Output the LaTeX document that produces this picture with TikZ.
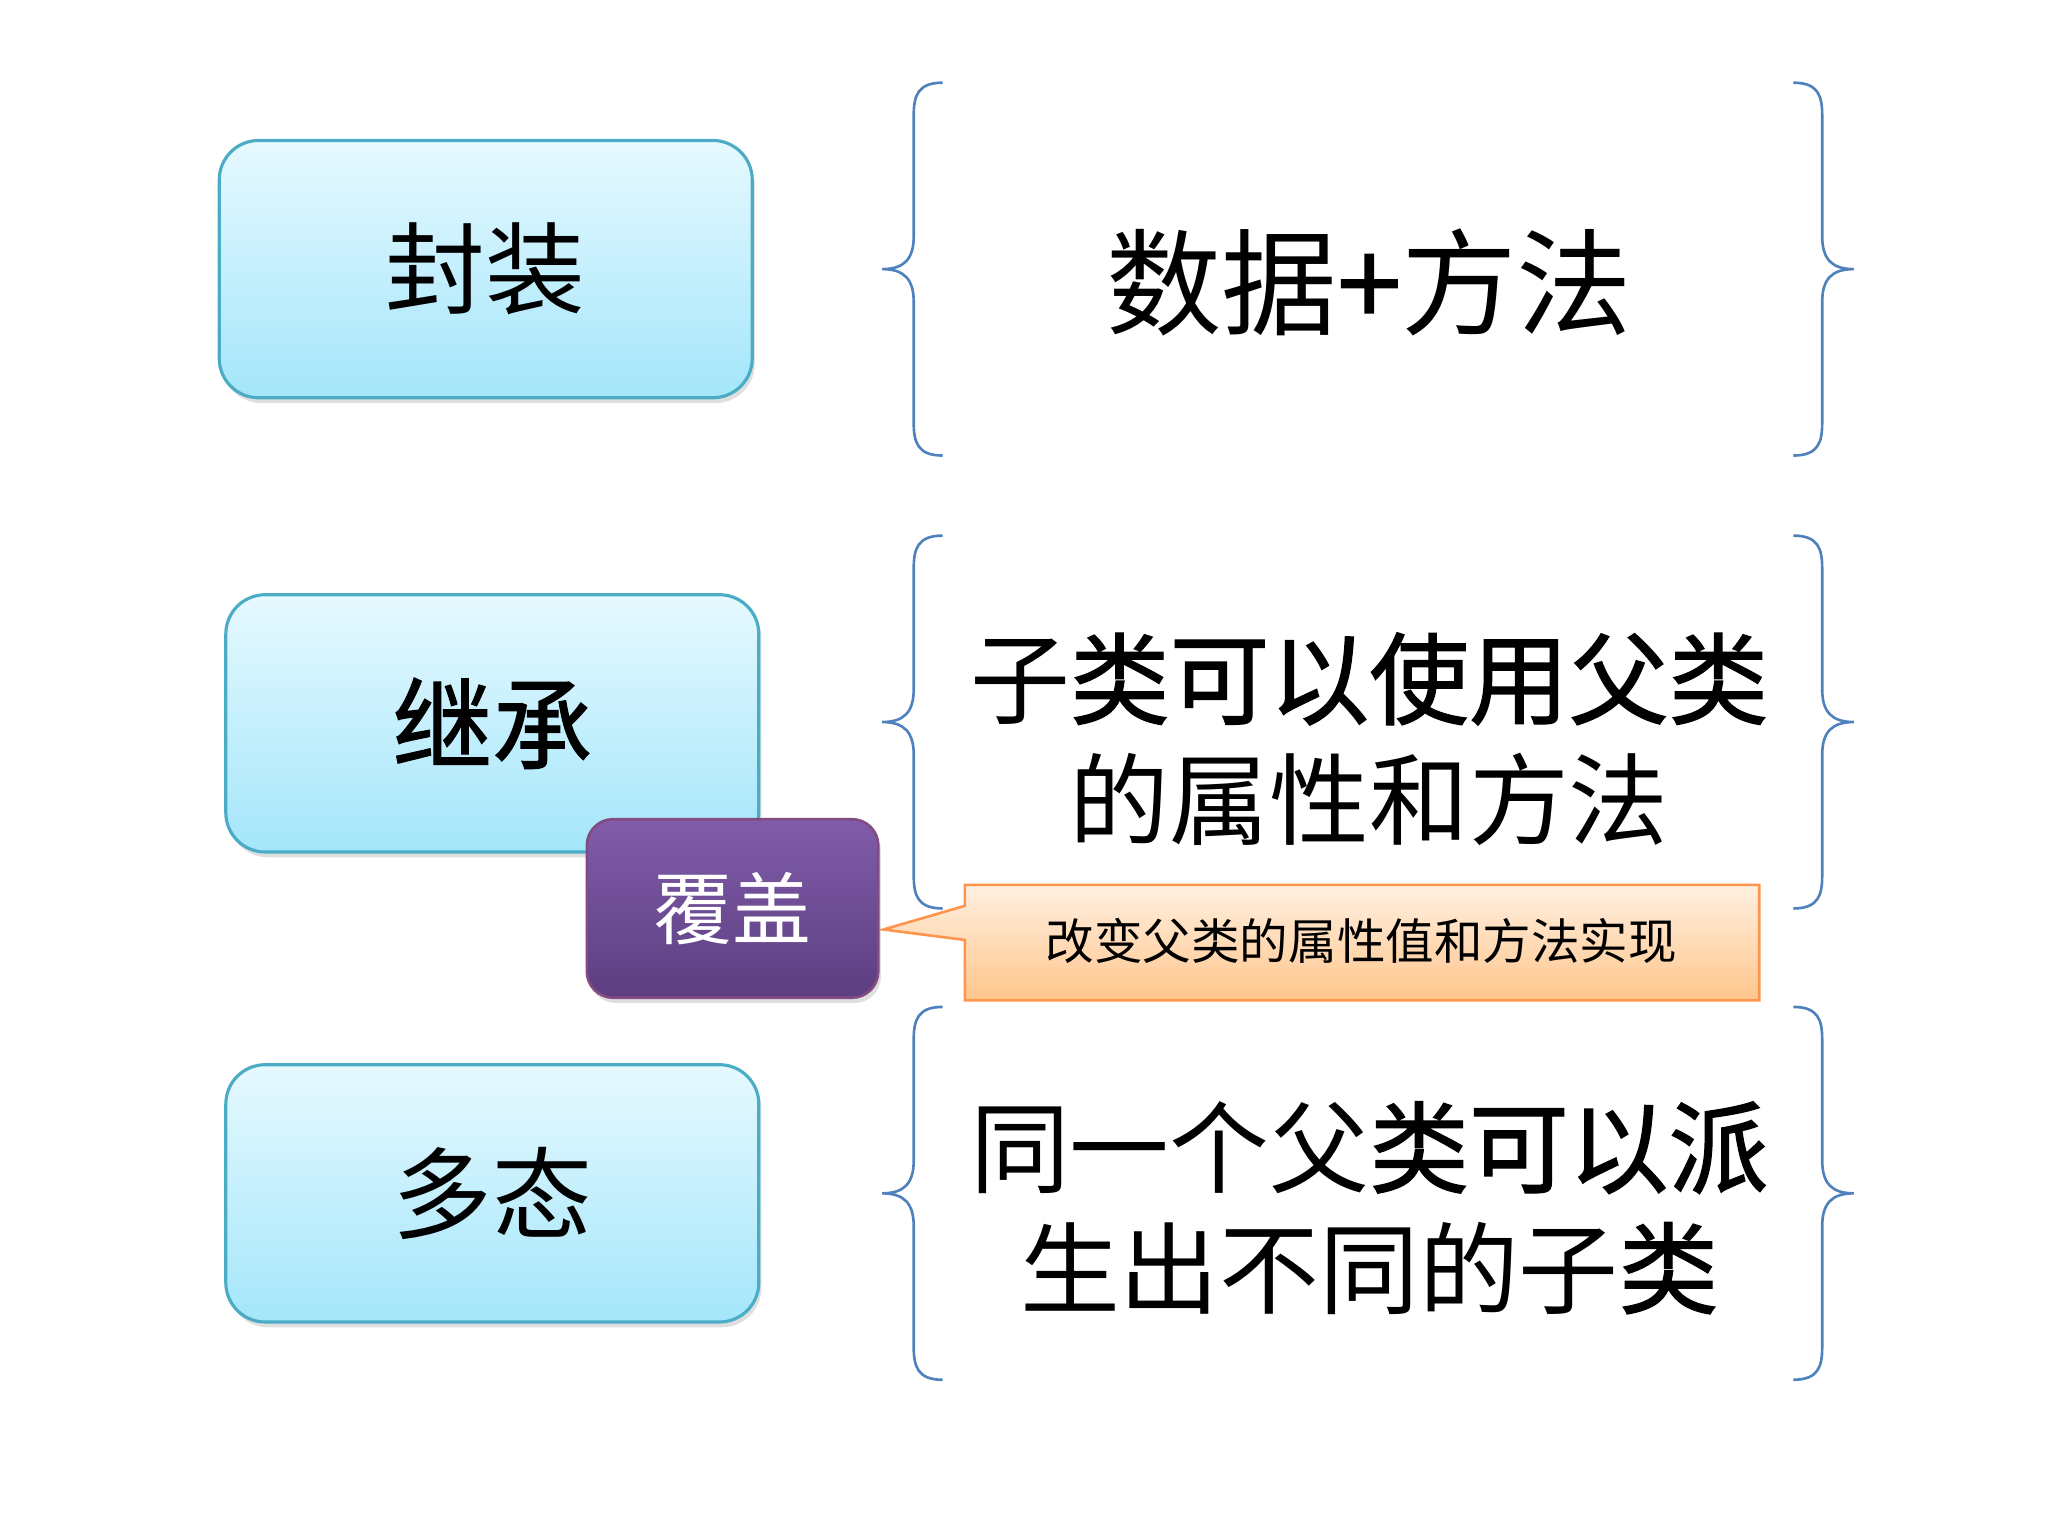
\documentclass[tikz,border=0pt]{standalone}
\usepackage{fontspec}
\setmainfont{Noto Sans CJK SC}
\newfontfamily\md[FakeBold=1.3]{Noto Sans CJK SC}
\usetikzlibrary{shadows}
\definecolor{bord}{HTML}{4BACC6}
\definecolor{brc}{HTML}{4F81BD}
\definecolor{ctop}{HTML}{E6F9FF}
\definecolor{cbot}{HTML}{A4E6FA}
\tikzset{
 cbox/.style={draw=bord,line width=1.2pt,rounded corners=15pt,minimum width=203pt,minimum height=98pt,
   top color=ctop,bottom color=cbot,font=\fontsize{38}{40}\selectfont,
   drop shadow={shadow xshift=1pt,shadow yshift=-2pt,opacity=.25}},
 brace/.style={draw=brc,line width=1pt},
 big/.style={font=\fontsize{38}{46}\selectfont,align=center}
}
\newcommand{\mybr}[2]{% top, bottom (px)
 \pgfmathsetmacro\m{(#1+#2)/2}
 \draw[brace] (718,#1) .. controls (699,#1) and (696,#1+10) .. (696,#1+25) -- (696,\m-25) .. controls (696,\m-8) and (689,\m) .. (672,\m)
   .. controls (689,\m) and (696,\m+8) .. (696,\m+25) -- (696,#2-25) .. controls (696,#2-10) and (699,#2) .. (718,#2);
 \draw[brace] (1366,#1) .. controls (1385,#1) and (1388,#1+10) .. (1388,#1+25) -- (1388,\m-25) .. controls (1388,\m-8) and (1395,\m) .. (1412,\m)
   .. controls (1395,\m) and (1388,\m+8) .. (1388,\m+25) -- (1388,#2-25) .. controls (1388,#2-10) and (1385,#2) .. (1366,#2);
}
\begin{document}
\begin{tikzpicture}[x=0.5pt,y=-0.5pt]
\useasboundingbox (0,0) rectangle (1560,1170);
\fill[white] (0,0) rectangle (1560,1170);
\node[cbox] (a) at (370,205) {封装};
\node[cbox] (b) at (375,551) {\md 继承};
\node[cbox] (c) at (375,909) {多态};
\mybr{63}{347}
\mybr{408}{692}
\mybr{767}{1051}
\node[font=\fontsize{44}{46}\selectfont] (t1) at (1043,215) {数据{\md +}方法};
\node[big] (t2) at (1043,563) {子{\md 类可以使用父类}\\的属性和方法};
\node[big] (t3) at (1043,920) {同一个父{\md 类可以派}\\生出不同的子{\md 类}};
\coordinate (tip) at (673,708);
\draw[draw=orange!80!red!70,line width=1pt,top color=orange!12,bottom color=orange!45]
 (735,674) -- (1340,674) -- (1340,762) -- (735,762) -- (735,716) -- (tip) -- (735,690) -- cycle;
\node[font=\fontsize{18.5}{20}\selectfont] (k) at (1037,717) {改变父类的属性值和方法实现};
\node[draw=violet!60!black!70,line width=1pt,rounded corners=10pt,minimum width=111pt,minimum height=68pt,
 top color={rgb,255:red,128;green,92;blue,170},bottom color={rgb,255:red,92;green,62;blue,128},
 text=white,font=\fontsize{30}{32}\selectfont,drop shadow={shadow xshift=1pt,shadow yshift=-2pt,opacity=.25}] (p) at (558,692) {覆盖};
\end{tikzpicture}
\end{document}
